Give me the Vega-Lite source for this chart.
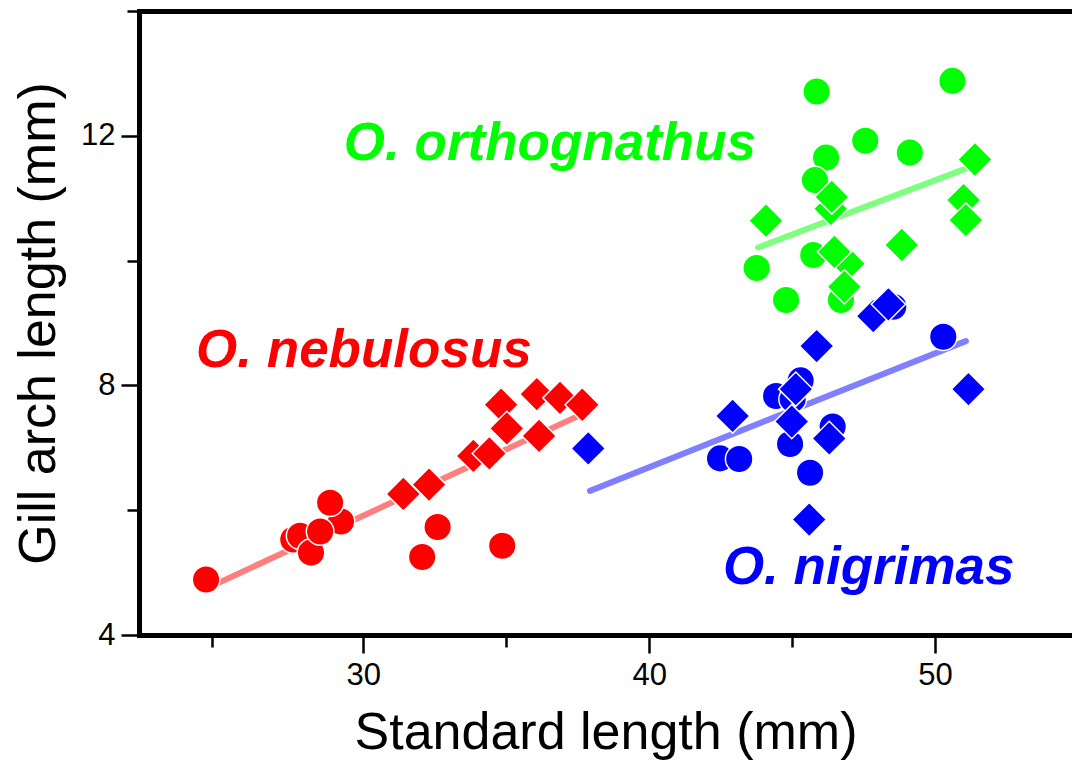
{
  "$schema": "https://vega.github.io/schema/vega-lite/v6.json",
  "autosize": {"type": "none"},
  "padding": {"left": 139, "top": 11, "right": 0, "bottom": 125},
  "width": 933,
  "height": 624,
  "background": "white",
  "view": {"stroke": null},
  "config": {"font": "Liberation Sans"},
  "datasets": {
    "fish": [
      {"species": "O. nebulosus", "group": "I", "sl": 24.50, "gal": 4.89},
      {"species": "O. nebulosus", "group": "I", "sl": 27.55, "gal": 5.53},
      {"species": "O. nebulosus", "group": "I", "sl": 27.79, "gal": 5.59},
      {"species": "O. nebulosus", "group": "I", "sl": 28.17, "gal": 5.32},
      {"species": "O. nebulosus", "group": "I", "sl": 29.22, "gal": 5.82},
      {"species": "O. nebulosus", "group": "I", "sl": 28.84, "gal": 6.12},
      {"species": "O. nebulosus", "group": "I", "sl": 28.49, "gal": 5.66},
      {"species": "O. nebulosus", "group": "I", "sl": 32.06, "gal": 5.25},
      {"species": "O. nebulosus", "group": "I", "sl": 32.60, "gal": 5.73},
      {"species": "O. nebulosus", "group": "I", "sl": 34.86, "gal": 5.43},
      {"species": "O. orthognathus", "group": "I", "sl": 45.86, "gal": 12.71},
      {"species": "O. orthognathus", "group": "I", "sl": 50.61, "gal": 12.88},
      {"species": "O. orthognathus", "group": "I", "sl": 47.56, "gal": 11.92},
      {"species": "O. orthognathus", "group": "I", "sl": 49.12, "gal": 11.73},
      {"species": "O. orthognathus", "group": "I", "sl": 46.19, "gal": 11.65},
      {"species": "O. orthognathus", "group": "I", "sl": 45.80, "gal": 11.29},
      {"species": "O. orthognathus", "group": "I", "sl": 43.76, "gal": 9.88},
      {"species": "O. orthognathus", "group": "I", "sl": 45.74, "gal": 10.09},
      {"species": "O. orthognathus", "group": "I", "sl": 44.79, "gal": 9.37},
      {"species": "O. orthognathus", "group": "I", "sl": 46.71, "gal": 9.37},
      {"species": "O. nigrimas", "group": "I", "sl": 50.29, "gal": 8.78},
      {"species": "O. nigrimas", "group": "I", "sl": 48.54, "gal": 9.26},
      {"species": "O. nigrimas", "group": "I", "sl": 45.30, "gal": 8.08},
      {"species": "O. nigrimas", "group": "I", "sl": 44.44, "gal": 7.83},
      {"species": "O. nigrimas", "group": "I", "sl": 45.02, "gal": 7.78},
      {"species": "O. nigrimas", "group": "I", "sl": 46.42, "gal": 7.34},
      {"species": "O. nigrimas", "group": "I", "sl": 44.93, "gal": 7.06},
      {"species": "O. nigrimas", "group": "I", "sl": 42.48, "gal": 6.83},
      {"species": "O. nigrimas", "group": "I", "sl": 43.15, "gal": 6.82},
      {"species": "O. nigrimas", "group": "I", "sl": 45.63, "gal": 6.60},
      {"species": "O. nebulosus", "group": "II", "sl": 31.40, "gal": 6.26},
      {"species": "O. nebulosus", "group": "II", "sl": 32.30, "gal": 6.41},
      {"species": "O. nebulosus", "group": "II", "sl": 33.85, "gal": 6.87},
      {"species": "O. nebulosus", "group": "II", "sl": 34.41, "gal": 6.91},
      {"species": "O. nebulosus", "group": "II", "sl": 34.82, "gal": 7.69},
      {"species": "O. nebulosus", "group": "II", "sl": 35.02, "gal": 7.31},
      {"species": "O. nebulosus", "group": "II", "sl": 36.15, "gal": 7.19},
      {"species": "O. nebulosus", "group": "II", "sl": 36.07, "gal": 7.86},
      {"species": "O. nebulosus", "group": "II", "sl": 36.88, "gal": 7.80},
      {"species": "O. nebulosus", "group": "II", "sl": 37.66, "gal": 7.69},
      {"species": "O. orthognathus", "group": "II", "sl": 44.09, "gal": 10.64},
      {"species": "O. orthognathus", "group": "II", "sl": 46.35, "gal": 10.83},
      {"species": "O. orthognathus", "group": "II", "sl": 46.39, "gal": 11.02},
      {"species": "O. orthognathus", "group": "II", "sl": 51.40, "gal": 11.62},
      {"species": "O. orthognathus", "group": "II", "sl": 51.00, "gal": 10.97},
      {"species": "O. orthognathus", "group": "II", "sl": 51.08, "gal": 10.65},
      {"species": "O. orthognathus", "group": "II", "sl": 48.84, "gal": 10.25},
      {"species": "O. orthognathus", "group": "II", "sl": 46.97, "gal": 9.95},
      {"species": "O. orthognathus", "group": "II", "sl": 46.48, "gal": 10.14},
      {"species": "O. orthognathus", "group": "II", "sl": 46.83, "gal": 9.58},
      {"species": "O. nigrimas", "group": "II", "sl": 47.84, "gal": 9.11},
      {"species": "O. nigrimas", "group": "II", "sl": 48.37, "gal": 9.30},
      {"species": "O. nigrimas", "group": "II", "sl": 45.86, "gal": 8.63},
      {"species": "O. nigrimas", "group": "II", "sl": 45.13, "gal": 7.94},
      {"species": "O. nigrimas", "group": "II", "sl": 44.99, "gal": 7.42},
      {"species": "O. nigrimas", "group": "II", "sl": 42.92, "gal": 7.51},
      {"species": "O. nigrimas", "group": "II", "sl": 46.30, "gal": 7.15},
      {"species": "O. nigrimas", "group": "II", "sl": 51.17, "gal": 7.94},
      {"species": "O. nigrimas", "group": "II", "sl": 45.60, "gal": 5.85},
      {"species": "O. nigrimas", "group": "II", "sl": 37.87, "gal": 6.99}
    ],
    "fits": [
      {"species": "O. nebulosus", "sl": 24.53, "gal": 4.75},
      {"species": "O. nebulosus", "sl": 37.66, "gal": 7.54},
      {"species": "O. orthognathus", "sl": 43.81, "gal": 10.21},
      {"species": "O. orthognathus", "sl": 51.40, "gal": 11.53},
      {"species": "O. nigrimas", "sl": 37.93, "gal": 6.31},
      {"species": "O. nigrimas", "sl": 51.08, "gal": 8.71}
    ],
    "names": [
      {"species": "O. orthognathus", "sl": 29.32, "gal": 11.62},
      {"species": "O. nebulosus", "sl": 24.15, "gal": 8.30},
      {"species": "O. nigrimas", "sl": 42.58, "gal": 4.81}
    ]
  },
  "resolve": {"axis": {"x": "independent", "y": "independent"}},
  "layer": [
    {
      "data": {"name": "fits"},
      "mark": {"type": "line", "strokeWidth": 6, "strokeCap": "round", "opacity": 0.5},
      "encoding": {
        "x": {"field": "sl", "type": "quantitative",
              "scale": {"domain": [22.153, 54.793], "nice": false, "zero": false},
              "axis": {"orient": "top", "ticks": false, "labels": false, "title": null, "grid": false,
                       "domain": true, "domainWidth": 5, "domainColor": "black", "domainCap": "square"}},
        "y": {"field": "gal", "type": "quantitative",
              "scale": {"domain": [4, 14], "nice": false, "zero": false},
              "axis": {"orient": "left", "values": [4, 8, 12], "title": "Gill arch length (mm)",
                       "titleFont": "Liberation Sans", "titleFontSize": 52, "titleFontWeight": "normal", "titleColor": "black", "titlePadding": 15,
                       "labelFont": "Liberation Sans", "labelFontSize": 31, "labelColor": "black", "labelPadding": 6,
                       "tickSize": 18, "tickWidth": 2.5, "tickColor": "black", "grid": false,
                       "domainWidth": 5, "domainColor": "black", "domainCap": "square",
                       "labelFlush": false, "labelOverlap": false, "format": "d"}},
        "color": {"field": "species", "type": "nominal",
                  "scale": {"domain": ["O. nebulosus", "O. orthognathus", "O. nigrimas"], "range": ["#ff0000", "#00ff00", "#0000ff"]},
                  "legend": null}
      }
    },
    {
      "data": {"name": "fish"},
      "transform": [{"filter": "datum.group == 'I'"}],
      "mark": {"type": "point", "shape": "circle", "filled": true, "opacity": 1, "size": 760, "stroke": "white", "strokeWidth": 1.5},
      "encoding": {
        "x": {"field": "sl", "type": "quantitative",
              "scale": {"domain": [22.153, 54.793], "nice": false, "zero": false},
              "axis": {"orient": "bottom", "values": [30, 40, 50], "title": "Standard length (mm)",
                       "titleFont": "Liberation Sans", "titleFontSize": 52, "titleFontWeight": "normal", "titleColor": "black", "titlePadding": 17,
                       "labelFont": "Liberation Sans", "labelFontSize": 31, "labelColor": "black", "labelPadding": 7,
                       "tickSize": 18, "tickWidth": 2.5, "tickColor": "black", "grid": false,
                       "domainWidth": 5, "domainColor": "black", "domainCap": "square",
                       "labelFlush": false, "labelOverlap": false, "format": "d"}},
        "y": {"field": "gal", "type": "quantitative",
              "scale": {"domain": [4, 14], "nice": false, "zero": false},
              "axis": {"orient": "left", "values": [6, 10, 14], "title": null, "labels": false, "domain": false, "grid": false,
                       "tickSize": 12, "tickWidth": 2.5, "tickColor": "black"}},
        "color": {"field": "species", "type": "nominal", "legend": null}
      }
    },
    {
      "data": {"name": "fish"},
      "transform": [{"filter": "datum.group == 'II'"}],
      "mark": {"type": "point", "shape": "diamond", "filled": true, "opacity": 1, "size": 1180, "stroke": "white", "strokeWidth": 1.5},
      "encoding": {
        "x": {"field": "sl", "type": "quantitative", "axis": null},
        "y": {"field": "gal", "type": "quantitative", "axis": null},
        "color": {"field": "species", "type": "nominal", "legend": null}
      }
    },
    {
      "data": {"name": "names"},
      "mark": {"type": "text", "font": "Liberation Sans", "fontSize": 53, "fontStyle": "italic", "fontWeight": "bold", "align": "left", "baseline": "alphabetic"},
      "encoding": {
        "x": {"field": "sl", "type": "quantitative",
              "axis": {"orient": "bottom", "values": [24.7, 35, 45], "title": null, "labels": false, "domain": false, "grid": false,
                       "tickSize": 12, "tickWidth": 2.5, "tickColor": "black"}},
        "y": {"field": "gal", "type": "quantitative", "axis": null},
        "text": {"field": "species", "type": "nominal"},
        "color": {"field": "species", "type": "nominal", "legend": null}
      }
    }
  ]
}
